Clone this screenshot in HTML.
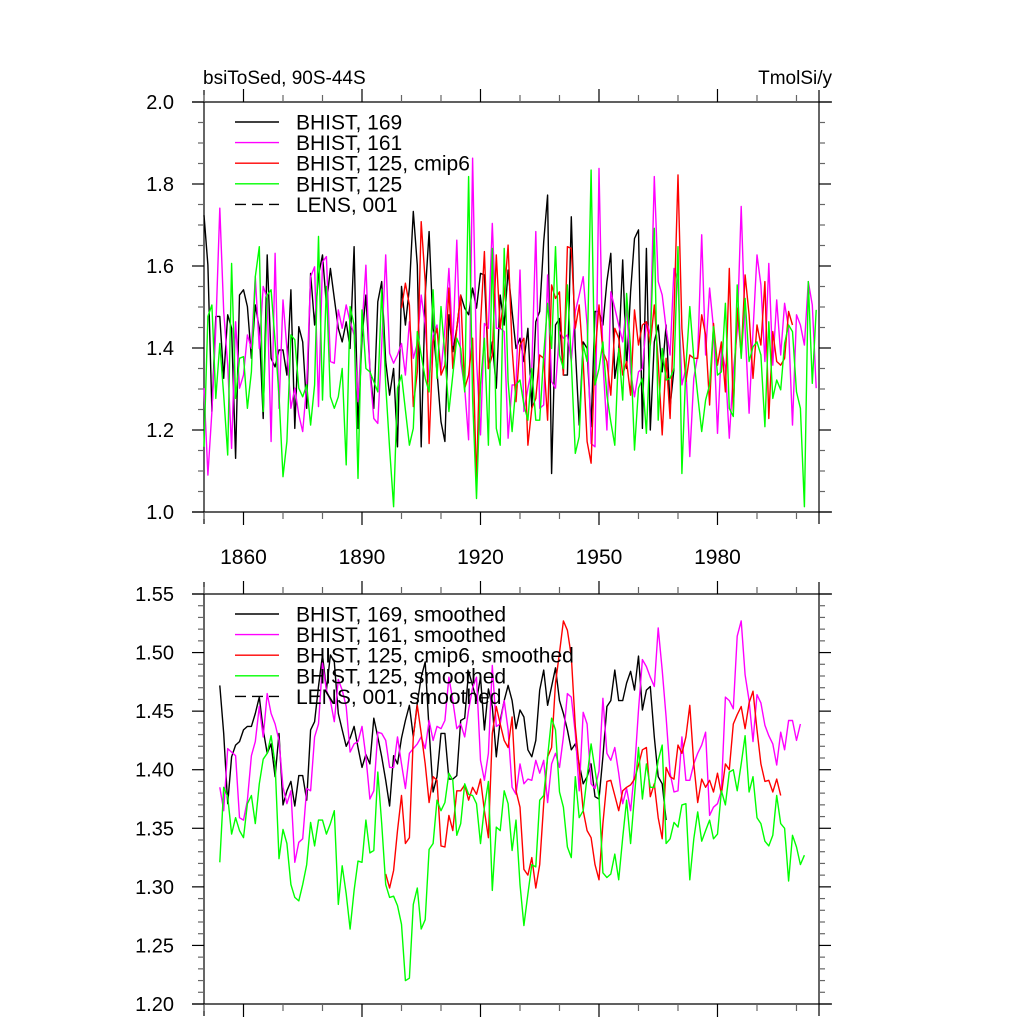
<!DOCTYPE html>
<html><head><meta charset="utf-8"><style>
html,body{margin:0;padding:0;background:#fff;width:1024px;height:1024px;overflow:hidden}
svg{display:block;font-family:"Liberation Sans",sans-serif}
</style></head><body>
<svg id="chart" width="1024" height="1024" viewBox="0 0 1024 1024" xmlns="http://www.w3.org/2000/svg">
<text x="203" y="84" font-size="19">bsiToSed, 90S-44S</text>
<text x="832" y="84" font-size="19" text-anchor="end">TmolSi/y</text>
<g id="top"></g>
<g id="bot"></g>
</svg>
<script>
const xTickYears = [1860, 1890, 1920, 1950, 1980];
const topYTicks = [1.0, 1.2, 1.4, 1.6, 1.8, 2.0];
const botYTicks = [1.20, 1.25, 1.30, 1.35, 1.40, 1.45, 1.50, 1.55];

const topBlackStart = 1850;
const topBlack = [1.724,1.602,1.245,1.477,1.477,1.326,1.481,1.448,1.131,1.529,1.542,1.501,1.375,1.505,1.448,1.228,1.627,1.375,1.354,1.395,1.395,1.334,1.542,1.204,1.452,1.415,1.253,1.582,1.456,1.578,1.627,1.505,1.594,1.521,1.448,1.415,1.464,1.399,1.647,1.204,1.424,1.529,1.35,1.253,1.513,1.562,1.367,1.285,1.35,1.159,1.55,1.456,1.546,1.733,1.602,1.159,1.529,1.684,1.448,1.342,1.22,1.172,1.481,1.391,1.448,1.529,1.497,1.481,1.546,1.497,1.582,1.578,1.35,1.415,1.302,
1.529,1.456,1.59,1.489,1.399,1.424,1.367,1.448,1.253,1.464,1.489,1.659,1.773,1.094,1.456,1.472,1.334,1.334,1.72,1.399,1.212,1.415,1.399,1.208,1.489,1.489,1.456,1.562,1.631,1.326,1.391,1.615,1.35,1.537,1.667,1.688,1.204,1.643,1.2,1.415,1.456,1.342,1.456,1.257,1.35];
const topMagentaStart = 1850;
const topMagenta = [1.302,1.09,1.245,1.448,1.741,1.489,1.358,1.155,1.464,1.302,1.334,1.432,1.399,1.574,1.399,1.55,1.521,1.172,1.631,1.253,1.517,1.399,1.253,1.302,1.237,1.196,1.31,1.574,1.598,1.257,1.61,1.623,1.367,1.363,1.493,1.448,1.505,1.464,1.432,1.269,1.448,1.602,1.342,1.228,1.216,1.407,1.627,1.387,1.363,1.383,1.411,1.334,1.464,1.375,1.411,1.529,1.456,1.318,1.432,1.456,1.342,1.448,1.594,1.407,1.663,1.367,1.302,1.176,1.863,1.371,1.188,1.46,1.448,1.704,1.448,
1.448,1.44,1.18,1.31,1.31,1.59,1.245,1.302,1.35,1.684,1.253,1.261,1.578,1.318,1.302,1.44,1.424,1.432,1.367,1.489,1.529,1.574,1.456,1.167,1.159,1.838,1.367,1.2,1.537,1.497,1.456,1.415,1.505,1.342,1.281,1.342,1.35,1.464,1.432,1.818,1.562,1.529,1.448,1.383,1.594,1.562,1.31,1.35,1.135,1.326,1.383,1.676,1.383,1.546,1.448,1.192,1.399,1.35,1.18,1.342,1.44,1.745,1.448,1.241,1.44,1.627,1.554,1.367,1.606,1.358,1.517,1.383,1.509,1.448,1.212,1.481,1.456,1.407,1.562,1.505,1.302];
const topRedStart = 1900;
const topRed = [1.497,1.558,1.505,1.257,1.342,1.708,1.562,1.167,1.415,1.448,1.334,1.358,1.546,1.35,1.448,1.529,1.302,1.334,1.424,1.07,1.456,1.635,1.35,1.383,1.627,
1.448,1.529,1.651,1.399,1.269,1.407,1.424,1.163,1.253,1.277,1.383,1.375,1.224,1.554,1.521,1.537,1.334,1.647,1.643,1.448,1.505,1.367,1.172,1.119,1.383,1.505,1.391,1.367,1.285,1.448,1.424,1.334,1.367,1.285,1.493,1.407,1.456,1.464,1.407,1.505,1.367,1.188,1.375,1.228,1.481,1.822,1.448,1.318,1.383,1.375,1.375,1.481,1.432,1.261,1.46,1.358,1.415,1.293,1.594,1.245,1.497,1.383,1.578,1.481,1.326,1.456,1.407,1.562,1.228,1.44,1.367,1.358,1.375,1.489,1.456];
const topGreenStart = 1850;
const topGreen = [1.159,1.477,1.505,1.277,1.411,1.285,1.139,1.606,1.277,1.375,1.379,1.253,1.342,1.574,1.647,1.245,1.529,1.542,1.415,1.285,1.086,1.172,1.432,1.42,1.302,1.281,1.31,1.212,1.31,1.672,1.273,1.55,1.281,1.253,1.281,1.35,1.115,1.501,1.456,1.082,1.493,1.35,1.342,1.318,1.293,1.542,1.31,1.155,1.013,1.302,1.334,1.249,1.163,1.204,1.44,1.383,1.326,1.293,1.542,1.326,1.501,1.383,1.245,1.334,1.424,1.399,1.293,1.818,1.277,1.033,1.31,1.424,1.163,1.643,1.204,
1.163,1.643,1.318,1.196,1.31,1.322,1.261,1.224,1.35,1.224,1.224,1.383,1.509,1.399,1.647,1.383,1.35,1.554,1.367,1.143,1.184,1.407,1.367,1.834,1.31,1.35,1.415,1.285,1.22,1.163,1.399,1.273,1.533,1.399,1.151,1.302,1.326,1.192,1.415,1.692,1.224,1.399,1.322,1.326,1.35,1.647,1.094,1.354,1.501,1.375,1.285,1.196,1.273,1.31,1.452,1.334,1.342,1.509,1.253,1.233,1.554,1.375,1.521,1.367,1.403,1.415,1.383,1.208,1.464,1.277,1.322,1.298,1.411,1.456,1.44,1.293,1.253,1.013,1.562,1.314,1.493];

const smBlackStart = 1854;
const smBlack = [1.472,1.431,1.371,1.411,1.421,1.424,1.434,1.437,1.437,1.448,1.462,1.434,1.414,1.422,1.394,1.431,1.37,1.382,1.39,1.369,1.395,1.395,1.374,1.434,1.441,1.471,1.498,1.468,1.498,1.492,1.448,1.434,1.42,1.427,1.437,1.419,1.402,1.413,1.405,1.444,1.428,1.411,1.391,1.369,1.412,1.405,1.427,1.442,1.455,1.428,1.457,1.479,1.492,1.434,1.381,1.394,1.431,1.431,1.392,1.392,1.395,1.442,1.444,1.484,1.472,1.459,1.479,1.434,1.469,1.454,1.411,
1.442,1.459,1.472,1.459,1.435,1.451,1.445,1.417,1.411,1.425,1.468,1.485,1.455,1.471,1.487,1.459,1.448,1.434,1.417,1.422,1.405,1.388,1.394,1.405,1.377,1.375,1.411,1.454,1.459,1.485,1.459,1.459,1.474,1.484,1.468,1.497,1.451,1.468,1.471,1.428,1.394,1.388,1.357];
const smMagentaStart = 1854;
const smMagenta = [1.385,1.365,1.418,1.415,1.412,1.359,1.357,1.374,1.412,1.424,1.454,1.428,1.465,1.448,1.439,1.425,1.385,1.371,1.382,1.321,1.338,1.341,1.384,1.382,1.428,1.439,1.491,1.468,1.459,1.441,1.477,1.468,1.454,1.415,1.422,1.424,1.437,1.411,1.375,1.382,1.432,1.431,1.425,1.402,1.402,1.428,1.405,1.384,1.414,1.418,1.422,1.428,1.418,1.442,1.425,1.437,1.435,1.442,1.479,1.459,1.435,1.439,1.428,1.451,1.47,1.479,1.408,1.391,1.414,1.489,1.437,
1.439,1.459,1.434,1.385,1.379,1.405,1.388,1.392,1.391,1.408,1.397,1.408,1.372,1.405,1.414,1.402,1.428,1.465,1.462,1.431,1.382,1.449,1.439,1.388,1.384,1.399,1.461,1.414,1.408,1.419,1.397,1.371,1.384,1.365,1.399,1.451,1.494,1.488,1.479,1.471,1.521,1.485,1.445,1.397,1.381,1.382,1.428,1.391,1.391,1.405,1.414,1.421,1.432,1.361,1.368,1.371,1.382,1.462,1.459,1.452,1.514,1.527,1.481,1.459,1.424,1.464,1.457,1.438,1.429,1.422,1.404,1.432,1.417,1.442,1.442,1.425,1.439];
const smRedStart = 1896;
const smRed = [1.311,1.299,1.314,1.348,1.378,1.337,1.342,1.428,1.455,1.431,1.405,1.372,1.394,1.391,1.335,1.334,1.361,1.348,1.382,1.382,1.387,1.374,1.385,1.379,1.392,1.365,1.342,1.431,1.454,
1.439,1.425,1.419,1.445,1.382,1.368,1.315,1.31,1.325,1.299,1.319,1.371,1.411,1.419,1.474,1.5,1.527,1.519,1.497,1.437,1.402,1.365,1.348,1.342,1.319,1.306,1.354,1.39,1.391,1.378,1.365,1.382,1.385,1.387,1.392,1.404,1.417,1.419,1.377,1.388,1.359,1.341,1.402,1.394,1.392,1.421,1.414,1.428,1.455,1.405,1.372,1.392,1.385,1.391,1.381,1.397,1.379,1.405,1.4,1.439,1.447,1.454,1.435,1.457,1.467,1.434,1.405,1.39,1.391,1.381,1.392,1.378];
const smGreenStart = 1854;
const smGreen = [1.321,1.385,1.377,1.345,1.359,1.348,1.342,1.371,1.378,1.354,1.388,1.409,1.414,1.429,1.405,1.324,1.349,1.337,1.302,1.291,1.288,1.302,1.319,1.355,1.335,1.357,1.357,1.345,1.354,1.365,1.285,1.318,1.294,1.264,1.297,1.322,1.321,1.357,1.329,1.331,1.398,1.354,1.302,1.291,1.292,1.284,1.268,1.22,1.222,1.285,1.299,1.264,1.272,1.332,1.337,1.374,1.365,1.372,1.397,1.391,1.344,1.354,1.388,1.379,1.378,1.371,1.337,1.368,1.39,1.297,1.351,
1.348,1.382,1.371,1.331,1.357,1.302,1.267,1.294,1.319,1.317,1.374,1.378,1.411,1.444,1.434,1.381,1.368,1.334,1.325,1.394,1.359,1.365,1.394,1.422,1.4,1.377,1.312,1.308,1.311,1.328,1.306,1.342,1.374,1.337,1.378,1.419,1.375,1.405,1.385,1.385,1.408,1.421,1.337,1.341,1.355,1.351,1.37,1.371,1.306,1.341,1.364,1.339,1.348,1.357,1.341,1.345,1.382,1.37,1.398,1.4,1.382,1.405,1.429,1.381,1.394,1.359,1.354,1.339,1.335,1.344,1.378,1.354,1.35,1.305,1.344,1.334,1.319,1.327];

const NS = "http://www.w3.org/2000/svg";
const X0 = 204, X1 = 819, Y0 = 1850, Y1 = 2005.7;
function xs(yr){ return X0 + (yr - Y0) * (X1 - X0) / (Y1 - Y0); }
function mk(tag, attrs, parent){ const e = document.createElementNS(NS, tag); for (const k in attrs) e.setAttribute(k, attrs[k]); parent.appendChild(e); return e; }

function panel(g, top, bottom, vmin, vmax, yTicks, minorStep, ydec, showXLabels, series, legendTexts, legendY){
  const ys = v => bottom - (v - vmin) * (bottom - top) / (vmax - vmin);
  const ax = mk('g', {stroke:'#000','stroke-width':1.2}, g);
  
  
  mk('line', {x1:192, y1:top, x2:832, y2:top}, ax);
  mk('line', {x1:192, y1:bottom, x2:832, y2:bottom}, ax);
  mk('line', {x1:X0, y1:top-12, x2:X0, y2:bottom+12}, ax);
  mk('line', {x1:X1, y1:top-12, x2:X1, y2:bottom+12}, ax);
  for (let yr = 1850; yr <= 2005; yr += 10){
    const major = xTickYears.indexOf(yr) >= 0;
    const L = major ? 13 : 7; const x = xs(yr);
    mk('line', {x1:x, y1:top, x2:x, y2:top-L, stroke: major?'#000':'#666'}, ax);
    mk('line', {x1:x, y1:bottom, x2:x, y2:bottom+L, stroke: major?'#000':'#666'}, ax);
  }
  const nMinor = Math.round((vmax - vmin) / minorStep);
  for (let i = 0; i <= nMinor; i++){
    const v = vmin + i * minorStep; const y = ys(v);
    const major = yTicks.some(t => Math.abs(t - v) < 1e-6);
    const L = major ? 12 : 6;
    mk('line', {x1:X0, y1:y, x2:X0-L, y2:y, stroke: major?'#000':'#666'}, ax);
    mk('line', {x1:X1, y1:y, x2:X1+L, y2:y, stroke: major?'#000':'#666'}, ax);
  }
  yTicks.forEach(t => {
    const tx = mk('text', {x:174, y:ys(t)+7, 'font-size':20, 'text-anchor':'end'}, g);
    
    
    tx.textContent = t.toFixed(ydec);
  });
  if (showXLabels) xTickYears.forEach(yr => {
    const tx = mk('text', {x:xs(yr), y:bottom+52, 'font-size':21, 'text-anchor':'middle'}, g);
    
    
    tx.textContent = yr;
  });
  series.forEach(s => {
    const pts = s.data.map((v, i) => xs(s.start + i).toFixed(1) + ',' + ys(v).toFixed(1)).join(' ');
    const pl = mk('polyline', {points:pts, fill:'none', stroke:s.color, 'stroke-width':1.4, 'stroke-linejoin':'round'}, g);
    
    
  });
  const lg = mk('g', {}, g);
  
  
  const colors = ['#000','#ff00ff','#ff0000','#00ff00','#000'];
  legendTexts.forEach((t, i) => {
    const y = legendY + i * 20.6;
    const ln = mk('line', {x1:235, y1:y, x2:279, y2:y, stroke:colors[i], 'stroke-width':1.4}, lg);
    if (i === 4) ln.setAttribute('stroke-dasharray', '11,6');
    
    
    const tx = mk('text', {x:296, y:y+7.5, 'font-size':21}, lg);
    
    
    tx.textContent = t;
  });
}

panel(document.getElementById('top'), 102, 512, 1.0, 2.0, topYTicks, 0.05, 1, true, [
  {name:'line-bhist-169', color:'#000', start:topBlackStart, data:topBlack},
  {name:'line-bhist-161', color:'#ff00ff', start:topMagentaStart, data:topMagenta},
  {name:'line-bhist-125-cmip6', color:'#ff0000', start:topRedStart, data:topRed},
  {name:'line-bhist-125', color:'#00ff00', start:topGreenStart, data:topGreen}
], ['BHIST, 169','BHIST, 161','BHIST, 125, cmip6','BHIST, 125','LENS, 001'], 122);

panel(document.getElementById('bot'), 594, 1004, 1.20, 1.55, botYTicks, 0.01, 2, false, [
  {name:'line-bhist-169-smoothed', color:'#000', start:smBlackStart, data:smBlack},
  {name:'line-bhist-161-smoothed', color:'#ff00ff', start:smMagentaStart, data:smMagenta},
  {name:'line-bhist-125-cmip6-smoothed', color:'#ff0000', start:smRedStart, data:smRed},
  {name:'line-bhist-125-smoothed', color:'#00ff00', start:smGreenStart, data:smGreen}
], ['BHIST, 169, smoothed','BHIST, 161, smoothed','BHIST, 125, cmip6, smoothed','BHIST, 125, smoothed','LENS, 001, smoothed'], 614);
</script>
</body></html>
